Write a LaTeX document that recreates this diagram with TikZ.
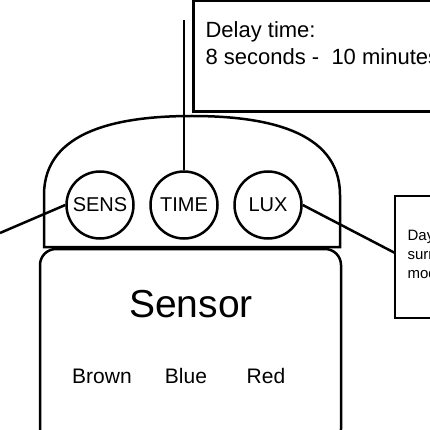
\documentclass[tikz,border=0pt]{standalone}
\usepackage{fontspec}
\setmainfont{Liberation Sans}
\usetikzlibrary{calc}

\begin{document}
\begin{tikzpicture}[x=1pt,y=-1pt,line width=2.5pt,
    knob/.style={circle,draw,minimum size=67pt,inner sep=0pt,font=\fontsize{20}{24}\selectfont},
    wire/.style={anchor=base,font=\fontsize{21}{25}\selectfont}]
    \useasboundingbox (0,0) rectangle (430,430);
    \clip (0,0) rectangle (430,430);
    \def\domeL{44}
    \def\domeR{340}
    \coordinate (d1) at (\domeL,247);
    \coordinate (d2) at (\domeL,195);
    \coordinate (d3) at (192,116);
    \coordinate (d4) at (\domeR,195);
    \coordinate (d5) at (\domeR,247);
    \draw (d1) -- (d2) .. controls (\domeL,130) and (120,116) .. (d3)
        .. controls (264,116) and (\domeR,130) .. (d4) -- (d5) -- cycle;
    \draw[rounded corners=16pt] (40,249) rectangle (341,445);
    \draw[line width=3pt] (193,1) rectangle (470,112);
    \draw (395,196) rectangle (470,318);
    \node[knob] (sens) at (100,205) {SENS};
    \node[knob] (time) at (184,205) {TIME};
    \node[knob] (lux) at (268,205) {LUX};
    \coordinate (leftend) at (0,233);
    \coordinate (timeend) at (184,20);
    \coordinate (dayin) at (395,253);
    \draw (sens.west) -- (leftend);
    \draw (time) -- (timeend);
    \draw (lux.east) -- (dayin);
    \node[anchor=base west,font=\fontsize{22}{26}\selectfont] (delay1) at (201,38) {Delay time:};
    \node[anchor=base west,font=\fontsize{22}{26}\selectfont] (delay2) at (201,65) {8 seconds - \ 10 minutes};
    \node[anchor=base west,font=\fontsize{15}{19}\selectfont] (day1) at (403,240) {Daylight};
    \node[anchor=base west,font=\fontsize{15}{19}\selectfont] (day2) at (403,259) {surrounding};
    \node[anchor=base west,font=\fontsize{15}{19}\selectfont] (day3) at (403,278) {mode};
    \node[anchor=base,font=\fontsize{39}{44}\selectfont] (sensor) at (191,317) {Sensor};
    \node[wire] (brown) at (102,383) {Brown};
    \node[wire] (blue) at (186,383) {Blue};
    \node[wire] (red) at (266,383) {Red};
  \end{tikzpicture}
\end{document}
